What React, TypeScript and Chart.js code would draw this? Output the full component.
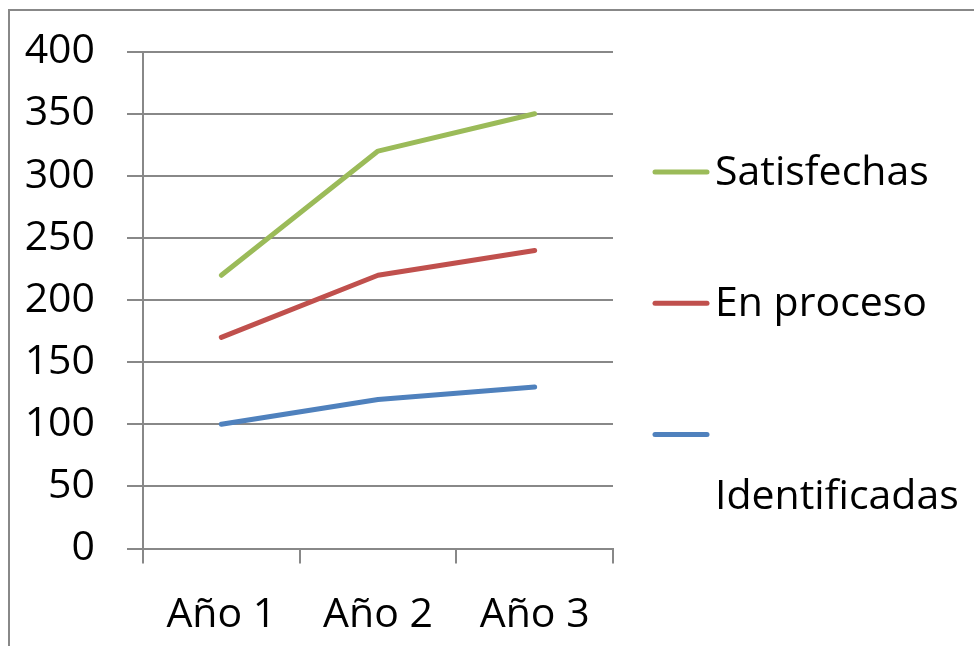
import React, { useEffect, useRef } from 'react';
import { Chart, registerables } from 'chart.js';

Chart.register(...registerables);

const categories = ['Año 1', 'Año 2', 'Año 3'];
const seriesNames = ['Identificadas', 'En proceso', 'Satisfechas'];
const identificadas = [100, 120, 130];
const enProceso = [170, 220, 240];
const satisfechas = [220, 320, 350];
const seriesColors = ['#4F81BD', '#C0504D', '#9BBB59'];
const yMin = 0;
const yMax = 400;
const yStep = 50;

const FONT = '"Open Sans"';
const FONT_SIZE = 41;
const GRID = '#888888';

const framePlugin = {
  id: 'frame',
  beforeDraw(chart: any) {
    const ctx = chart.ctx;
    ctx.save();
    ctx.strokeStyle = GRID;
    ctx.lineWidth = 2;
    ctx.beginPath();
    ctx.moveTo(9, chart.height);
    ctx.lineTo(9, 10);
    ctx.lineTo(chart.width, 10);
    ctx.stroke();
    ctx.restore();
  },
};

const sideLegendPlugin = {
  id: 'sideLegend',
  afterDraw(chart: any) {
    const ctx = chart.ctx;
    const ds = chart.data.datasets.slice().reverse();
    ctx.save();
    ctx.font = `${FONT_SIZE}px ${FONT}`;
    ctx.textBaseline = 'middle';
    ctx.textAlign = 'left';
    try {
      ctx.letterSpacing = '0.01px';
    } catch (e) {}
    ds.forEach((d: any, i: number) => {
      const y = 172 + i * 131.3;
      ctx.strokeStyle = d.borderColor;
      ctx.lineWidth = 5;
      ctx.lineCap = 'round';
      ctx.beginPath();
      ctx.moveTo(655, y);
      ctx.lineTo(707, y);
      ctx.stroke();
      ctx.fillStyle = '#000';
      const w = ctx.measureText(d.label).width;
      if (w > 228) ctx.fillText(d.label, 715, y + 63);
      else ctx.fillText(d.label, 715, y + 1);
    });
    ctx.restore();
  },
};

export default function App() {
  const ref = useRef<HTMLCanvasElement>(null);
  useEffect(() => {
    if (!ref.current) return;
    const values = [identificadas, enProceso, satisfechas];
    const chart = new Chart(ref.current, {
      type: 'line',
      data: {
        labels: categories,
        datasets: seriesNames.map((name, i) => ({
          label: name,
          data: values[i],
          borderColor: seriesColors[i],
          backgroundColor: seriesColors[i],
          borderWidth: 5,
          borderCapStyle: 'round',
          borderJoinStyle: 'round',
          pointRadius: 0,
          tension: 0,
        })),
      },
      options: {
        responsive: false,
        animation: false,
        devicePixelRatio: 1,
        layout: { padding: { top: 51.7, right: 361, bottom: 0, left: 0 } },
        plugins: { legend: { display: false }, tooltip: { enabled: false } },
        scales: {
          x: {
            type: 'category',
            offset: true,
            grid: {
              offset: true,
              drawOnChartArea: false,
              drawTicks: true,
              tickLength: 15,
              color: GRID,
              lineWidth: 2,
            },
            border: { display: true, color: GRID, width: 2 },
            ticks: {
              font: { family: FONT, size: FONT_SIZE },
              color: '#000',
              padding: 27,
              maxRotation: 0,
              autoSkip: false,
            },
            afterFit: (s: any) => {
              s.height = 97.5;
              s.paddingLeft = 0;
              s.paddingRight = 0;
            },
          },
          y: {
            min: yMin,
            max: yMax,
            ticks: {
              stepSize: yStep,
              font: { family: FONT, size: FONT_SIZE },
              color: '#000',
              padding: 32,
            },
            grid: { color: GRID, lineWidth: 2, tickLength: 16, drawTicks: true },
            border: { display: true, color: GRID, width: 2 },
            afterFit: (s: any) => {
              s.width = 143;
              s.paddingTop = 0;
              s.paddingBottom = 0;
            },
          },
        },
      },
      plugins: [framePlugin, sideLegendPlugin],
    } as any);
    return () => chart.destroy();
  }, []);
  return (
    <div style={{ position: 'fixed', left: 0, top: 0, width: 974, height: 646, background: '#fff' }}>
      <canvas ref={ref} width={974} height={646} />
    </div>
  );
}
